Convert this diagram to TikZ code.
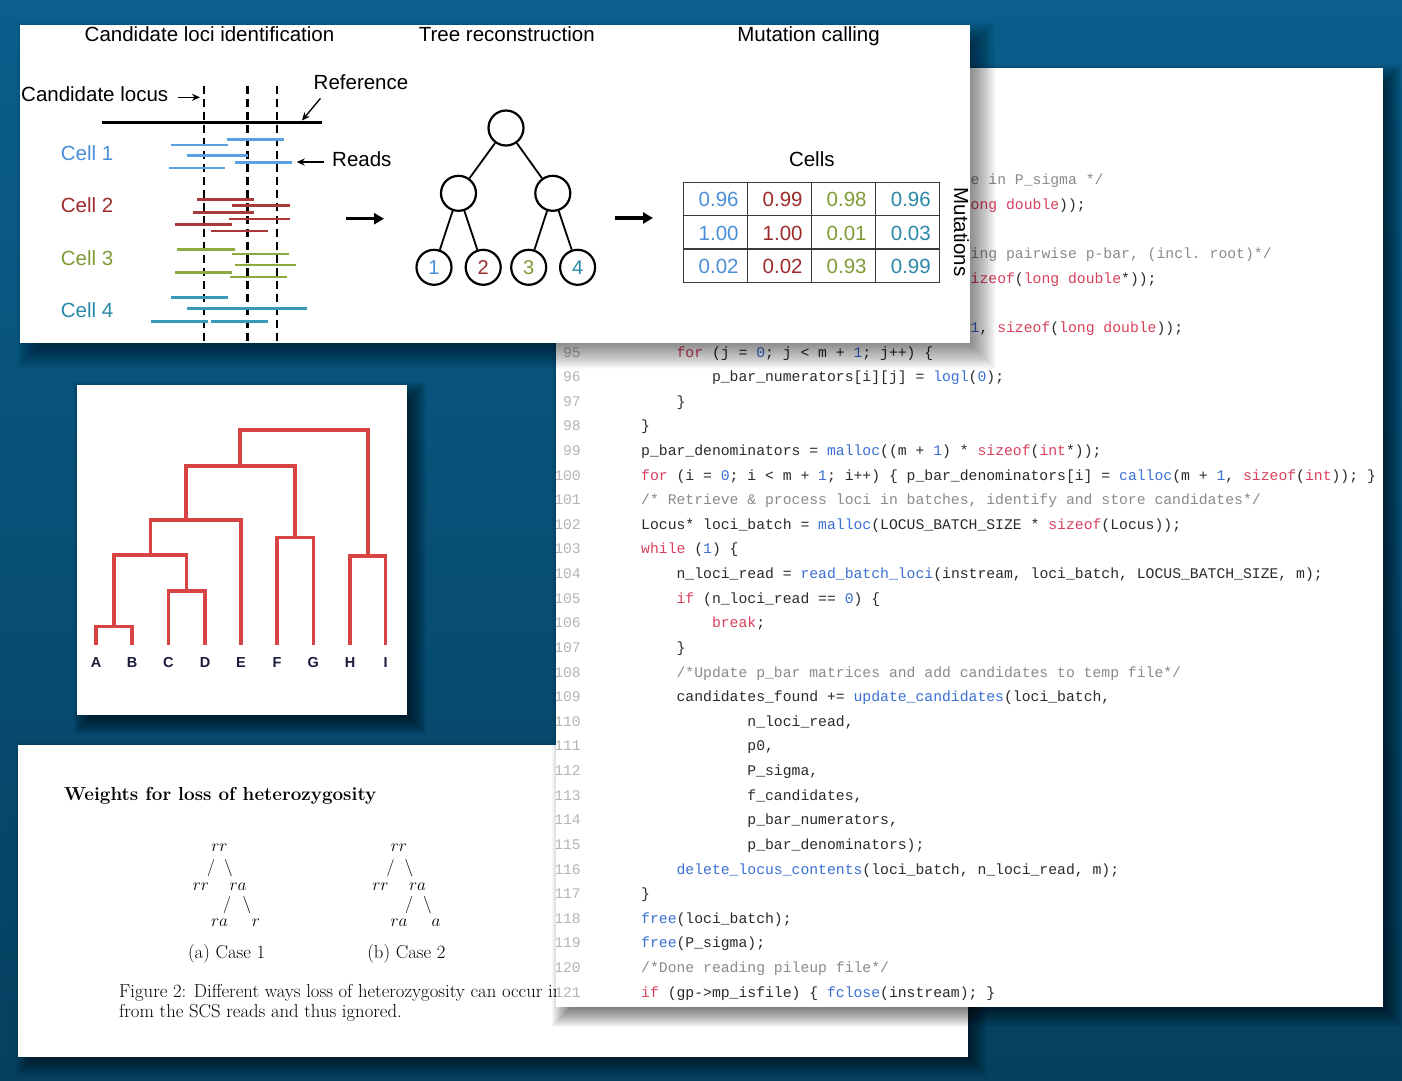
\documentclass[tikz,border=0pt]{standalone}
\usepackage{fontspec}
\setsansfont{Liberation Sans}
\newfontfamily\codefont{Liberation Mono}
\usetikzlibrary{arrows.meta}
\definecolor{bgtop}{HTML}{0B5F8D}
\definecolor{bgbot}{HTML}{05405F}
\definecolor{cblue}{HTML}{4A8FD8}
\definecolor{cred}{HTML}{9E2B2B}
\definecolor{cgreen}{HTML}{7E9C35}
\definecolor{cteal}{HTML}{2A88A8}
\definecolor{rblue}{HTML}{5CA0E2}
\definecolor{rred}{HTML}{A83A3A}
\definecolor{rgreen}{HTML}{8CAA40}
\definecolor{rteal}{HTML}{3A98B8}
\definecolor{dred}{HTML}{D84444}
\definecolor{dnavy}{HTML}{1C1C3C}
\definecolor{kwred}{HTML}{D9405C}
\definecolor{fnblue}{HTML}{3B6FD4}
\definecolor{cmgray}{HTML}{8A8A8A}
\definecolor{codetext}{HTML}{2A2A2A}
\definecolor{lngray}{HTML}{B5B5B5}
\definecolor{tgray}{HTML}{3A3A3A}
\newcommand{\ckw}[1]{\textcolor{kwred}{#1}}
\newcommand{\cfn}[1]{\textcolor{fnblue}{#1}}
\newcommand{\ccm}[1]{\textcolor{cmgray}{#1}}
\newcommand{\codeln}[3]{%
  \node[codeline] (code#1) at ({641+#2*35.4},{357+(#1-95)*24.62}) {#3};
  \node[lnum] (ln#1) at (581,{357+(#1-95)*24.62}) {#1};}
\newcommand{\codefrag}[2]{%
  \node[codeline] (frag#1) at (970.5,{357+(#1-95)*24.62}) {#2};}
\newcommand{\pshadow}[6]{%
  \foreach \k in {1,...,#5}{%
    \fill[black,opacity=#6] ({#1+0.85*#5-\k},{#2+0.85*#5-\k}) rectangle ({#3-0.15*#5+\k},{#4-0.15*#5+\k});}}
\tikzset{
  lbl/.style={inner sep=0pt, font=\sffamily\fontsize{20.5}{24}\selectfont},
  ptr/.style={line width=1.3pt, -{Stealth[length=8pt,width=7pt]}},
  bigarrow/.style={line width=3.5pt, -{Triangle[length=10pt,width=11pt]}},
  readline/.style={line width=2.6pt},
  locusline/.style={line width=2.4pt, dash pattern=on 8pt off 5pt},
  tnode/.style={circle, draw, line width=2.2pt, minimum size=35pt, inner sep=0pt, font=\sffamily\fontsize{20}{24}\selectfont},
  tedge/.style={line width=1.8pt},
  tnum/.style={inner sep=0pt, anchor=base, font=\sffamily\fontsize{20.5}{24}\selectfont},
  dendro/.style={line width=3.5pt, dred},
  dlab/.style={inner sep=0pt, anchor=base, text=dnavy, font=\sffamily\bfseries\fontsize{14.5}{16}\selectfont},
  codeline/.style={inner sep=0pt, anchor=base west, text=codetext, font=\codefont\fontsize{14.75}{17}\selectfont\frenchspacing},
  lnum/.style={inner sep=0pt, anchor=base east, text=lngray, font=\codefont\fontsize{14.75}{17}\selectfont},
  mth/.style={inner sep=0pt, anchor=base, font=\fontsize{18.5}{20}\selectfont},
  subcap/.style={inner sep=0pt, anchor=base, font=\fontsize{18.7}{22}\selectfont},
}
\begin{document}
\begin{tikzpicture}[x=1pt,y=-1pt]
\useasboundingbox (0,0) rectangle (1402,1080);
\shade[top color=bgtop,bottom color=bgbot] (0,0) rectangle (1402,1080);

% ---------------- bottom panel ----------------
\pshadow{18}{745}{968}{1057}{22}{0.03}
\fill[white] (18,745) rectangle (968,1057);
\node[inner sep=0pt, anchor=base west, font=\bfseries\fontsize{18.85}{22}\selectfont] (wtitle) at (64,800) {Weights for loss of heterozygosity};
% case 1
\node[mth] (a0) at (219.5,851) {$rr$};
\node[mth] (a1) at (211,872) {$/$};
\node[mth] (a2) at (228.5,872) {$\backslash$};
\node[mth] (a3) at (201,890) {$rr$};
\node[mth] (a4) at (238,890) {$ra$};
\node[mth] (a5) at (227,909) {$/$};
\node[mth] (a6) at (247,909) {$\backslash$};
\node[mth] (a7) at (219.5,926.5) {$ra$};
\node[mth] (a8) at (256,926.5) {$r$};
\node[subcap] (capa) at (226.6,958.5) {(a) Case 1};
% case 2
\node[mth] (b0) at (399,851) {$rr$};
\node[mth] (b1) at (390.5,872) {$/$};
\node[mth] (b2) at (409,872) {$\backslash$};
\node[mth] (b3) at (380.5,890) {$rr$};
\node[mth] (b4) at (417.5,890) {$ra$};
\node[mth] (b5) at (409,909) {$/$};
\node[mth] (b6) at (427.5,909) {$\backslash$};
\node[mth] (b7) at (399,926.5) {$ra$};
\node[mth] (b8) at (436,926.5) {$a$};
\node[subcap] (capb) at (406.4,958.5) {(b) Case 2};
\node[subcap, anchor=base west] (fig1) at (119,997) {Figure 2: Different ways loss of heterozygosity can occur in};
\node[subcap, anchor=base west] (fig2) at (119,1017) {from the SCS reads and thus ignored.};

% ---------------- code panel ----------------
\pshadow{556}{68}{1383}{1007}{24}{0.03}
\fill[white] (556,68) rectangle (1383,1007);
\begin{scope}
\clip (556,68) rectangle (1383,1007);
\codefrag{88}{\ccm{e in P\_sigma */}}
\codefrag{89}{\ckw{ong double}));}
\codefrag{91}{\ccm{ing pairwise p-bar, (incl. root)*/}}
\codefrag{92}{\ckw{izeof}(\ckw{long double}*));}
\codefrag{94}{\cfn{1}, \ckw{sizeof}(\ckw{long double}));}
\codeln{95}{1}{\ckw{for} (j = \cfn{0}; j < m + \cfn{1}; j++) \{}
\codeln{96}{2}{p\_bar\_numerators[i][j] = \cfn{logl}(\cfn{0});}
\codeln{97}{1}{\}}
\codeln{98}{0}{\}}
\codeln{99}{0}{p\_bar\_denominators = \cfn{malloc}((m + \cfn{1}) * \ckw{sizeof}(\ckw{int}*));}
\codeln{100}{0}{\ckw{for} (i = \cfn{0}; i < m + \cfn{1}; i++) \{ p\_bar\_denominators[i] = \cfn{calloc}(m + \cfn{1}, \ckw{sizeof}(\ckw{int})); \}}
\codeln{101}{0}{\ccm{/* Retrieve \& process loci in batches, identify and store candidates*/}}
\codeln{102}{0}{Locus* loci\_batch = \cfn{malloc}(LOCUS\_BATCH\_SIZE * \ckw{sizeof}(Locus));}
\codeln{103}{0}{\ckw{while} (\cfn{1}) \{}
\codeln{104}{1}{n\_loci\_read = \cfn{read\_batch\_loci}(instream, loci\_batch, LOCUS\_BATCH\_SIZE, m);}
\codeln{105}{1}{\ckw{if} (n\_loci\_read == \cfn{0}) \{}
\codeln{106}{2}{\ckw{break};}
\codeln{107}{1}{\}}
\codeln{108}{1}{\ccm{/*Update p\_bar matrices and add candidates to temp file*/}}
\codeln{109}{1}{candidates\_found += \cfn{update\_candidates}(loci\_batch,}
\codeln{110}{3}{n\_loci\_read,}
\codeln{111}{3}{p0,}
\codeln{112}{3}{P\_sigma,}
\codeln{113}{3}{f\_candidates,}
\codeln{114}{3}{p\_bar\_numerators,}
\codeln{115}{3}{p\_bar\_denominators);}
\codeln{116}{1}{\cfn{delete\_locus\_contents}(loci\_batch, n\_loci\_read, m);}
\codeln{117}{0}{\}}
\codeln{118}{0}{\cfn{free}(loci\_batch);}
\codeln{119}{0}{\cfn{free}(P\_sigma);}
\codeln{120}{0}{\ccm{/*Done reading pileup file*/}}
\codeln{121}{0}{\ckw{if} (gp->mp\_isfile) \{ \cfn{fclose}(instream); \}}
\end{scope}

% ---------------- dendrogram panel ----------------
\pshadow{77}{385}{407}{715}{24}{0.035}
\fill[white] (77,385) rectangle (407,715);
\draw[dendro] (96,645) |- (132,626.7) -- (132,645);
\draw[dendro] (168.3,645) |- (205,591) -- (205,645);
\draw[dendro] (114,626.7) |- (186.7,555) -- (186.7,591);
\draw[dendro] (150.3,555) |- (241,520) -- (241,645);
\draw[dendro] (277,645) |- (313.3,537.7) -- (313.3,645);
\draw[dendro] (186,520) |- (295,466) -- (295,537.7);
\draw[dendro] (350,645) |- (385.7,556) -- (385.7,645);
\draw[dendro] (240,466) |- (367.8,430) -- (367.8,556);
\node[dlab] (dA) at (96,667.5) {A};
\node[dlab] (dB) at (132,667.5) {B};
\node[dlab] (dC) at (168.3,667.5) {C};
\node[dlab] (dD) at (205,667.5) {D};
\node[dlab] (dE) at (241,667.5) {E};
\node[dlab] (dF) at (277,667.5) {F};
\node[dlab] (dG) at (313.3,667.5) {G};
\node[dlab] (dH) at (350,667.5) {H};
\node[dlab] (dI) at (385.7,667.5) {I};

% ---------------- top panel ----------------
\pshadow{20}{25}{970}{343}{30}{0.02}
\fill[white] (20,25) rectangle (970,343);
\node[lbl, anchor=base] (h1) at (209.5,41) {Candidate loci identification};
\node[lbl, anchor=base] (h2) at (506.8,41) {Tree reconstruction};
\node[lbl, anchor=base] (h3) at (808.6,41) {Mutation calling};
% reference and loci
\draw[line width=2.6pt] (102,122.3) -- (321.7,122.3);
\draw[locusline] (204,86) -- (204,343);
\draw[locusline] (247.3,86) -- (247.3,343);
\draw[locusline] (277,86) -- (277,343);
% reads
\foreach \ya/\xa/\xb in {139.3/226.7/284.3, 145/170.7/227.7, 155.7/186.7/247.7, 162.7/235/291.7, 168/168.7/225}
  \draw[readline, rblue] (\xa,\ya) -- (\xb,\ya);
\foreach \ya/\xa/\xb in {199.3/196.7/254.3, 205.3/232/290, 212.3/193.3/253.7, 219/229.3/289.7, 224.7/175.3/232, 231/211/267.7}
  \draw[readline, rred] (\xa,\ya) -- (\xb,\ya);
\foreach \ya/\xa/\xb in {249.3/176.7/235, 254/232/289.3, 265/235.3/295.7, 272.7/175.3/232, 277/230/286.7}
  \draw[readline, rgreen] (\xa,\ya) -- (\xb,\ya);
\foreach \ya/\xa/\xb in {297.7/170.7/228.3, 308.7/186.7/307.3, 321.3/151/207.7, 321.3/211/267.7}
  \draw[readline, rteal] (\xa,\ya) -- (\xb,\ya);
% labels
\node[lbl, anchor=base west] (cl) at (21,101.7) {Candidate locus};
\coordinate (locusTip) at (200,97.3);
\draw[ptr] ([xshift=10pt]cl.east |- locusTip) -- (locusTip);
\node[lbl, anchor=base west] (refl) at (313.5,89.3) {Reference};
\coordinate (refTip) at (302,120.5);
\draw[ptr] ([shift={(7,9)}]refl.base west) -- (refTip);
\node[lbl, anchor=base west] (reads) at (332,166.7) {Reads};
\coordinate (readsTip) at (296.7,162);
\draw[ptr] ([xshift=-8pt]reads.west |- readsTip) -- (readsTip);
\node[lbl, anchor=base west, text=cblue] (c1) at (60.7,160) {Cell 1};
\node[lbl, anchor=base west, text=cred] (c2) at (60.7,212.7) {Cell 2};
\node[lbl, anchor=base west, text=cgreen] (c3) at (60.7,265.7) {Cell 3};
\node[lbl, anchor=base west, text=cteal] (c4) at (60.7,317.7) {Cell 4};
% arrow 1
\coordinate (a1s) at (346,218.7);
\coordinate (a1e) at (384,218.7);
\draw[bigarrow] (a1s) -- (a1e);
% tree
\node[tnode] (t0) at (506,128) {};
\node[tnode] (tl) at (458.5,193.3) {};
\node[tnode] (tr) at (552.8,193.3) {};
\node[tnode, text=cblue] (l1) at (434,267.3) {1};
\node[tnode, text=cred] (l2) at (483.2,267.3) {2};
\node[tnode, text=cgreen] (l3) at (528.7,267.3) {3};
\node[tnode, text=cteal] (l4) at (577.6,267.3) {4};
\draw[tedge] (t0) -- (tl);
\draw[tedge] (t0) -- (tr);
\draw[tedge] (tl) -- (l1);
\draw[tedge] (tl) -- (l2);
\draw[tedge] (tr) -- (l3);
\draw[tedge] (tr) -- (l4);
% arrow 2
\coordinate (a2s) at (614.6,218);
\coordinate (a2e) at (653,218);
\draw[bigarrow] (a2s) -- (a2e);
% table
\draw[line width=1.3pt, tgray] (683.4,182.3) rectangle (939.8,282.3);
\draw[line width=1.3pt, tgray] (747.8,182.3) -- (747.8,282.3);
\draw[line width=1.3pt, tgray] (811.4,182.3) -- (811.4,282.3);
\draw[line width=1.3pt, tgray] (875.8,182.3) -- (875.8,282.3);
\draw[line width=1.3pt, tgray] (683.4,215.7) -- (939.8,215.7);
\draw[line width=1.3pt, tgray] (683.4,249) -- (939.8,249);
\node[tnum] (cells) at (811.8,166.7) {Cells};
\node[tnum, text=cblue] (m11) at (718.6,206.7) {0.96};
\node[tnum, text=cred] (m12) at (782.6,206.7) {0.99};
\node[tnum, text=cgreen] (m13) at (846.6,206.7) {0.98};
\node[tnum, text=cteal] (m14) at (910.8,206.7) {0.96};
\node[tnum, text=cblue] (m21) at (718.6,240.2) {1.00};
\node[tnum, text=cred] (m22) at (782.6,240.2) {1.00};
\node[tnum, text=cgreen] (m23) at (846.6,240.2) {0.01};
\node[tnum, text=cteal] (m24) at (910.8,240.2) {0.03};
\node[tnum, text=cblue] (m31) at (718.6,273.5) {0.02};
\node[tnum, text=cred] (m32) at (782.6,273.5) {0.02};
\node[tnum, text=cgreen] (m33) at (846.6,273.5) {0.93};
\node[tnum, text=cteal] (m34) at (910.8,273.5) {0.99};
\node[lbl, rotate=-90] (mut) at (961.4,232) {Mutations};
\end{tikzpicture}
\end{document}
